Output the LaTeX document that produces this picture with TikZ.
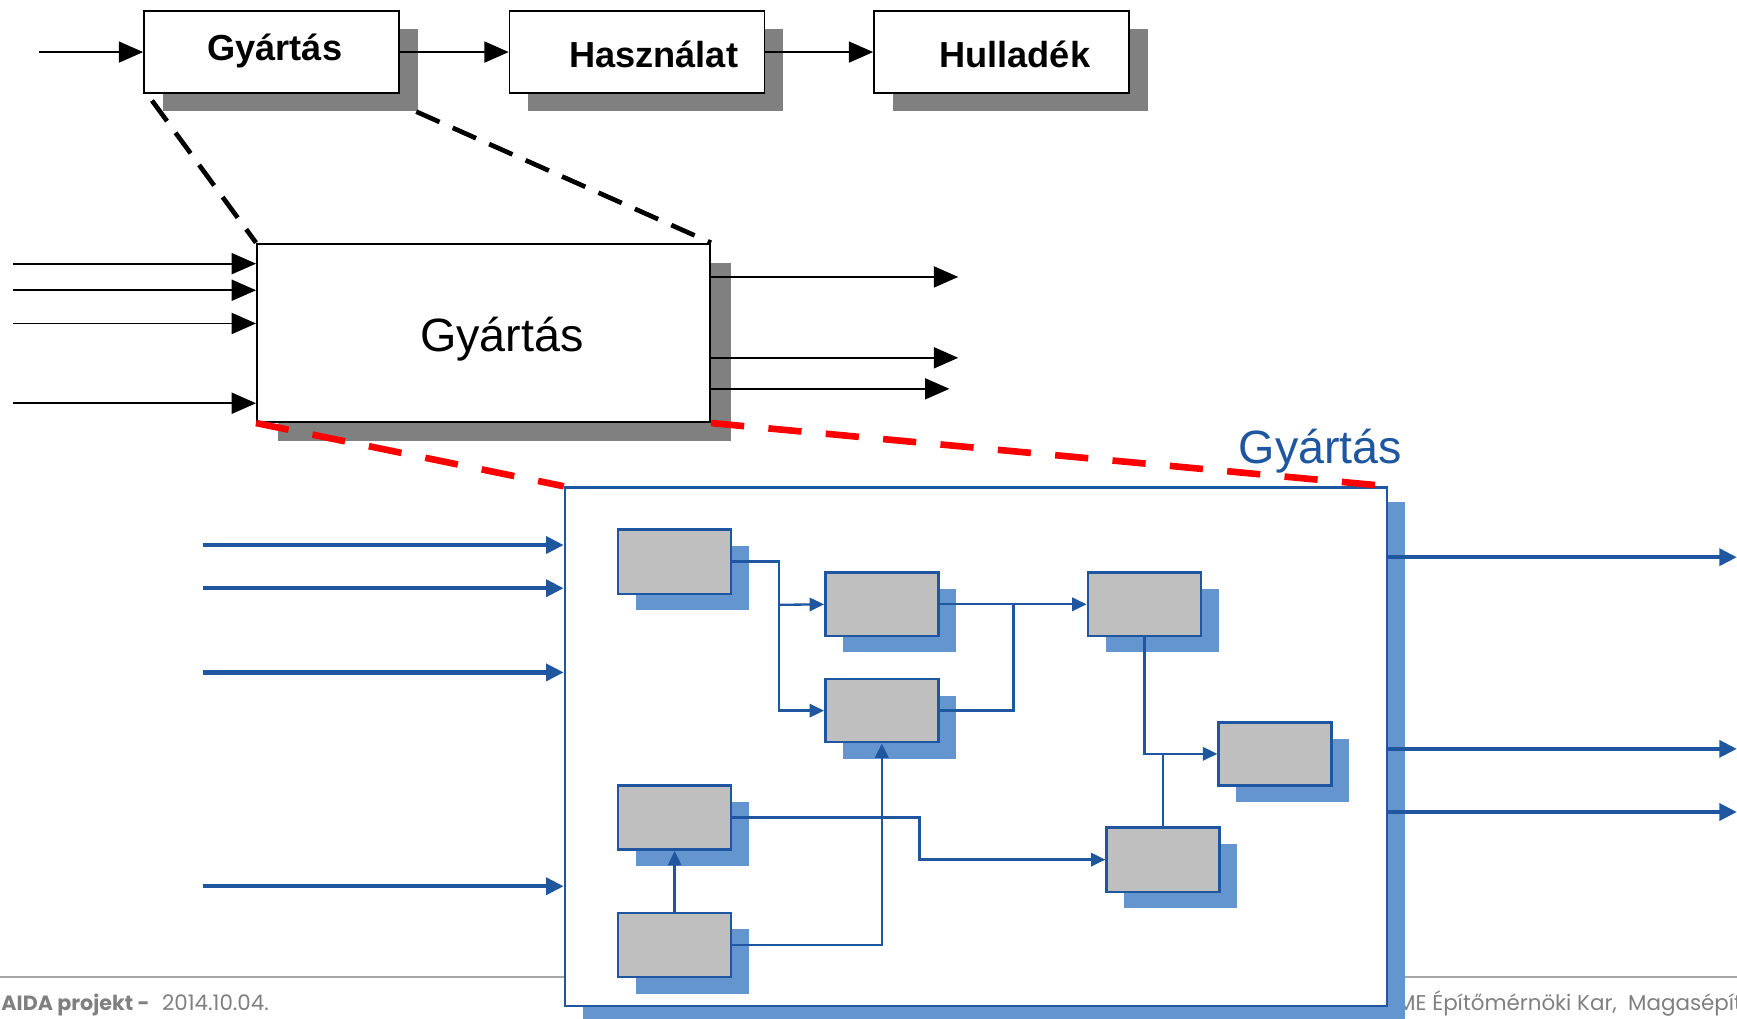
\documentclass[tikz,border=0pt]{standalone}
\usepackage{fontspec}
\setmainfont{Liberation Sans}
\newfontfamily\footfont{Poppins}
\usetikzlibrary{arrows.meta,fit,shadows,calc}
\definecolor{dblue}{HTML}{1F56A0}
\definecolor{lblue}{HTML}{6495CE}
\definecolor{sgray}{HTML}{808080}
\definecolor{bgray}{HTML}{BFBFBF}
\definecolor{fgray}{HTML}{808080}
\definecolor{lgray}{HTML}{A6A6A6}
\begin{document}
\begin{tikzpicture}[x=0.02cm,y=-0.02cm,
 topbox/.style={draw=black, line width=0.9pt, fill=white, inner sep=0pt, drop shadow={shadow xshift=0.34cm, shadow yshift=-0.32cm, fill=sgray, opacity=1}},
 bigbox/.style={draw=black, line width=1pt, fill=white, inner sep=0pt, drop shadow={shadow xshift=0.38cm, shadow yshift=-0.34cm, fill=sgray, opacity=1}},
 blubox/.style={draw=dblue, line width=1.2pt, fill=white, inner sep=0pt, drop shadow={shadow xshift=0.32cm, shadow yshift=-0.26cm, fill=lblue, opacity=1}},
 subbox/.style={draw=dblue, line width=1.3pt, fill=bgray, inner sep=0pt, drop shadow={shadow xshift=0.32cm, shadow yshift=-0.30cm, fill=lblue, opacity=1}},
 toptext/.style={font=\fontsize{18.6}{20}\selectfont\bfseries, inner sep=0pt},
 bigtext/.style={font=\fontsize{24}{26}\selectfont, inner sep=0pt},
 karr/.style={draw=black, line width=0.9pt, -{Triangle[length=0.44cm,width=0.38cm]}},
 barr/.style={draw=dblue, line width=2.3pt, -{Triangle[length=0.32cm,width=0.3cm]}},
 bcon/.style={draw=dblue, line width=1.2pt},
 bconarr/.style={bcon, -{Triangle[length=0.26cm,width=0.24cm]}},
 kdash/.style={draw=black, line width=2.4pt, dash pattern=on 0.46cm off 0.26cm},
 rdash/.style={draw=red, line width=3.4pt, dash pattern=on 0.6cm off 0.44cm},
 foot/.style={font=\footfont\fontsize{11}{13}\selectfont, text=fgray, inner sep=0pt}
]
\useasboundingbox (0,0) rectangle (1568,919);
\begin{scope}
\clip (0,0) rectangle (1568,919);
% footer
\draw[lgray, line width=0.6pt] (0,882) -- (1568,882);
\node[foot, anchor=base west] (f1) at (1,912) {\bfseries\fontsize{10.6}{13}\selectfont AIDA projekt -};
\node[foot, anchor=base west] (f2) at (146,912) {2014.10.04.};
\node[foot, anchor=base west] (f3) at (1249,912) {BME Építőmérnöki Kar,~ Magasépíte};

% top row
\node[topbox, fit={(130,10)(360,84)}] (b1) {};
\node[topbox, fit={(460,10)(690,84)}] (b2) {};
\node[topbox, fit={(789,10)(1019,84)}] (b3) {};
\node[toptext] (t1) at (248,46) {Gyártás};
\node[toptext] (t2) at (590,49) {Használat};
\node[toptext] (t3) at (916,49) {Hulladék};
\coordinate (in0) at (35,47);
\draw[karr] (in0) -- (b1.west);
\draw[karr] (b1.east) -- (b2.west);
\draw[karr] (b2.east) -- (b3.west);

% middle box
\node[bigbox, fit={(232,220)(641,381)}] (big) {};
\node[bigtext] (bt) at (453,306) {Gyártás};
\foreach \y [count=\i] in {238,262,292,364} {
  \coordinate (mi\i) at (12,\y);
  \draw[karr] (mi\i) -- (mi\i -| big.west);
}
\coordinate (mo1) at (865,250);
\coordinate (mo2) at (865,323);
\coordinate (mo3) at (857,351);
\foreach \i in {1,2,3} { \draw[karr] (big.east |- mo\i) -- (mo\i); }
\draw[kdash] ([xshift=0.16cm,yshift=-0.12cm]b1.south west) -- (big.north west);
\draw[kdash] ([xshift=0.3cm,yshift=-0.32cm]b1.south east) -- (big.north east);

% detailed box
\node[blubox, fit={(510,440)(1252,908)}] (blue) {};
\node[bigtext, text=dblue] (bl) at (1192,407) {Gyártás};
\foreach \y [count=\i] in {492,531,607,800} {
  \coordinate (bi\i) at (183,\y);
  \draw[barr] (bi\i) -- (bi\i -| blue.west);
}
\foreach \y [count=\i] in {503,676,733} {
  \coordinate (bo\i) at (1568,\y);
  \draw[barr] (blue.east |- bo\i) -- (bo\i);
}
\draw[rdash] (big.south west) -- (blue.north west);
\draw[rdash] (big.south east) -- (blue.north east);

% sub boxes
\node[subbox, fit={(558,478)(660,536)}] (A) {};
\node[subbox, fit={(745,517)(847,574)}] (B) {};
\node[subbox, fit={(745,613)(847,670)}] (C) {};
\node[subbox, fit={(982,517)(1084,574)}] (D) {};
\node[subbox, fit={(1100,652)(1202,709)}] (E) {};
\node[subbox, fit={(558,709)(660,767)}] (F) {};
\node[subbox, fit={(999,747)(1101,805)}] (G) {};
\node[subbox, fit={(558,824)(660,882)}] (H) {};

\coordinate (j1) at (703,546);
\coordinate (j2) at (915,546);
\coordinate (j3) at (830,738);
\draw[bconarr] (A.east) -| (j1) |- (C.west);
\draw[bconarr] (j1) -- (B.west);
\draw[bconarr] (B.east) -- (D.west);
\draw[bcon] (C.east) -| (j2);
\draw[bconarr] (D.south) |- (E.west);
\draw[bcon] (G.north) -- (G.north |- E.west);
\draw[bconarr] (F.east) -- (j3) |- (G.west);
\draw[bconarr] (H.east) -| (C.south);
\draw[bconarr] (H.north) -- (F.south);
\end{scope}
\end{tikzpicture}
\end{document}
